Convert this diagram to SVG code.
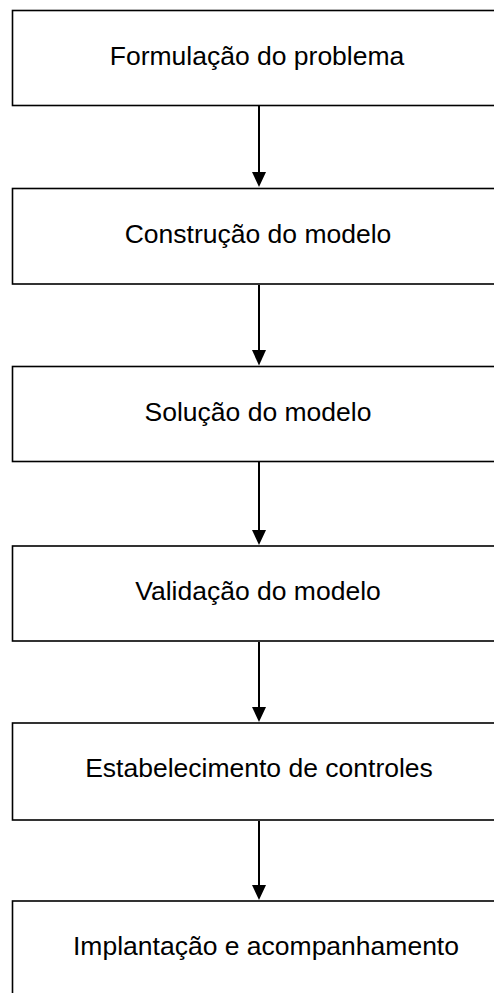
<svg xmlns="http://www.w3.org/2000/svg" width="494" height="993" viewBox="0 0 494 993">
<style>
.box{fill:#fff;stroke:#000;stroke-width:1.6}
.lbl{font-family:"Liberation Sans",Arial,sans-serif;font-size:26.5px;fill:#000;text-anchor:middle}
.ln{stroke:#000;stroke-width:2;fill:none}
.hd{fill:#000}
</style>
<rect width="494" height="993" fill="#fff"/>
<g id="n1"><rect class="box" x="12.5" y="10.5" width="600" height="95"/><text class="lbl" x="257" y="65">Formulação do problema</text></g>
<g id="n2"><rect class="box" x="12.5" y="188.5" width="600" height="95.5"/><text class="lbl" x="258" y="243">Construção do modelo</text></g>
<g id="n3"><rect class="box" x="12.5" y="366.5" width="600" height="95"/><text class="lbl" x="258" y="421">Solução do modelo</text></g>
<g id="n4"><rect class="box" x="12.5" y="546" width="600" height="95"/><text class="lbl" x="258" y="600">Validação do modelo</text></g>
<g id="n5"><rect class="box" x="12.5" y="723" width="600" height="97"/><text class="lbl" x="259" y="777">Estabelecimento de controles</text></g>
<g id="n6"><rect class="box" x="12.5" y="901" width="600" height="120"/><text class="lbl" x="266" y="955">Implantação e acompanhamento</text></g>
<g id="connectors">
<line class="ln" x1="259" y1="106" x2="259" y2="175"/><polygon class="hd" points="252,172 266,172 259,187"/>
<line class="ln" x1="259" y1="285" x2="259" y2="353"/><polygon class="hd" points="252,350 266,350 259,365.5"/>
<line class="ln" x1="259" y1="462" x2="259" y2="533"/><polygon class="hd" points="252,530 266,530 259,545"/>
<line class="ln" x1="259" y1="642" x2="259" y2="710"/><polygon class="hd" points="252,707 266,707 259,722"/>
<line class="ln" x1="259" y1="821" x2="259" y2="888"/><polygon class="hd" points="252,885 266,885 259,900"/>
</g>
</svg>
